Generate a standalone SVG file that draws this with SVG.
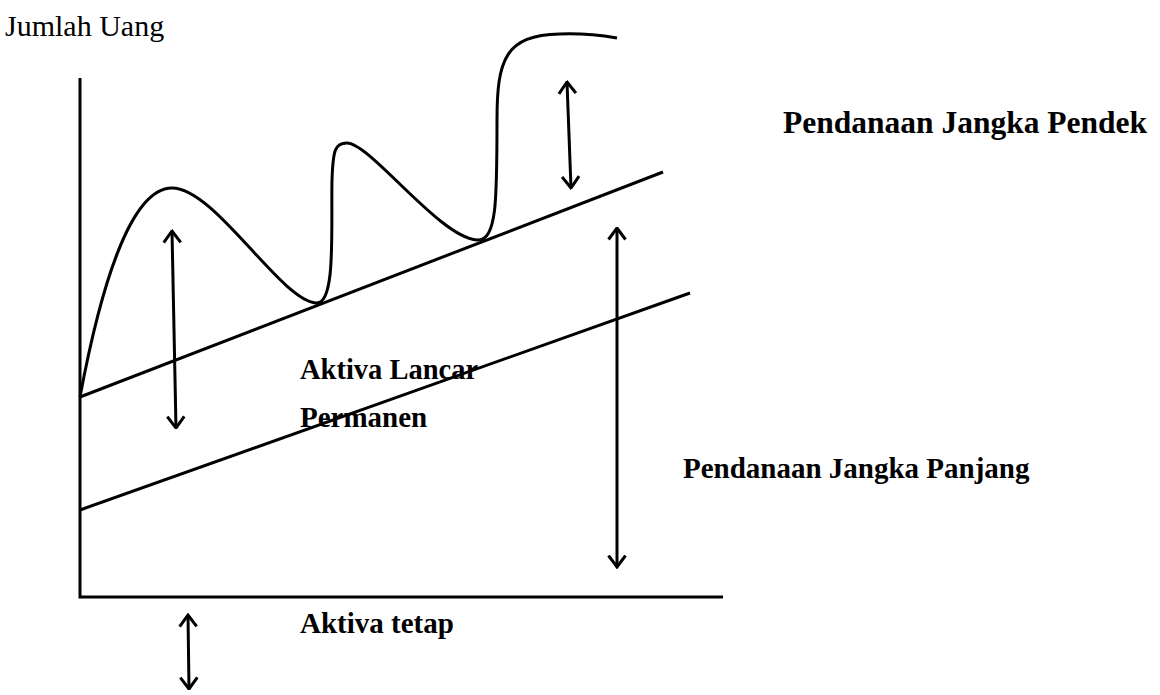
<svg xmlns="http://www.w3.org/2000/svg" width="1160" height="695" viewBox="0 0 1160 695">
<style>
.ln{fill:none;stroke:#000;stroke-width:3;stroke-linecap:butt}
.ar{fill:none;stroke:#000;stroke-width:3}
.t{font-family:"Liberation Serif","Times New Roman",serif;fill:#000}
.b{font-weight:bold;font-size:29px}
</style>
<defs>
<marker id="ah" viewBox="0 0 14 20" refX="12.5" refY="10" markerWidth="14" markerHeight="20" markerUnits="userSpaceOnUse" orient="auto-start-reverse">
<path d="M1,1.5 L12.5,10 L1,18.5" fill="none" stroke="#000" stroke-width="3"/>
</marker>
</defs>
<rect width="1160" height="695" fill="#fff"/>
<g id="axes">
<path class="ln" d="M80,78 L80,597 L723,597"/>
</g>
<g id="lines">
<line class="ln" x1="80" y1="397" x2="663" y2="172"/>
<line class="ln" x1="80" y1="510" x2="690" y2="293"/>
<path class="ln" d="M80,397 C100,290 130,188 172,188 C215,188 280,300 316,303 C336,305 331,230 332,180 C333,150 335,143 347,143 C370,143 440,238 477,240 C497,241 497,200 497,120 C497,60 505,35 560,34 C585,33 605,36 617,38"/>
</g>
<g id="connectors">
<line class="ar" x1="172" y1="231" x2="176" y2="428" marker-start="url(#ah)" marker-end="url(#ah)"/>
<line class="ar" x1="567" y1="82" x2="571" y2="188" marker-start="url(#ah)" marker-end="url(#ah)"/>
<line class="ar" x1="617" y1="228" x2="617" y2="567" marker-start="url(#ah)" marker-end="url(#ah)"/>
<line class="ar" x1="188" y1="615" x2="189" y2="689" marker-start="url(#ah)" marker-end="url(#ah)"/>
</g>
<g id="labels">
<text class="t" x="5" y="36" font-size="30">Jumlah Uang</text>
<text class="t b" x="783" y="133" style="font-size:31.5px">Pendanaan Jangka Pendek</text>
<text class="t b" x="683" y="478">Pendanaan Jangka Panjang</text>
<text class="t b" x="300" y="379" style="font-size:28.5px">Aktiva Lancar</text>
<text class="t b" x="300" y="427">Permanen</text>
<text class="t b" x="300" y="633">Aktiva tetap</text>
</g>
</svg>
